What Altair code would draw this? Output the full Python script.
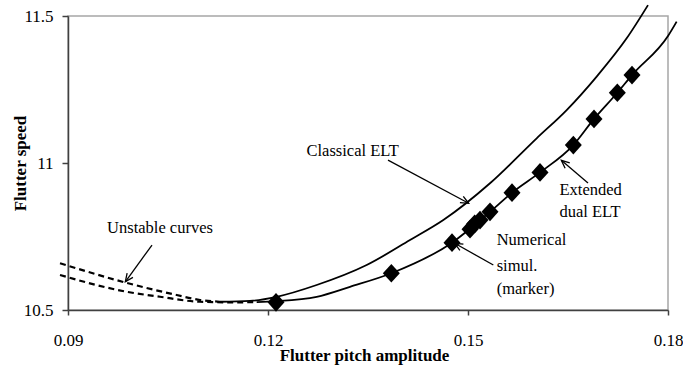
import math
import altair as alt
import pandas as pd

# ---------------- data ----------------
classical_x = [0.1128, 0.1173, 0.1213, 0.1273, 0.1348, 0.1413, 0.1463, 0.1533, 0.1603, 0.1648, 0.1693, 0.1738, 0.1770]
classical_y = [10.528, 10.531, 10.545, 10.585, 10.653, 10.738, 10.806, 10.931, 11.084, 11.180, 11.294, 11.424, 11.537]

extended_x = [0.1183, 0.1212, 0.1273, 0.1323, 0.1385, 0.1476, 0.1533, 0.1566, 0.1608, 0.1658, 0.1689, 0.1724, 0.1746, 0.1800, 0.1813]
extended_y = [10.527, 10.530, 10.545, 10.579, 10.625, 10.729, 10.834, 10.899, 10.968, 11.061, 11.150, 11.239, 11.299, 11.432, 11.481]

unstable_classical_x = [0.0888, 0.0985, 0.1063, 0.1098, 0.1128]
unstable_classical_y = [10.659, 10.594, 10.551, 10.534, 10.528]

unstable_extended_x = [0.0888, 0.0988, 0.1038, 0.1098, 0.1153, 0.1183]
unstable_extended_y = [10.619, 10.562, 10.545, 10.528, 10.526, 10.527]

simul_x = [0.1212, 0.1385, 0.1476, 0.1503, 0.1510, 0.1518, 0.1533, 0.1566, 0.1608, 0.1658, 0.1689, 0.1724, 0.1746]
simul_y = [10.526, 10.625, 10.729, 10.775, 10.793, 10.806, 10.834, 10.899, 10.968, 11.061, 11.150, 11.239, 11.299]

x_ticks = [0.09, 0.12, 0.15, 0.18]
y_ticks = [10.5, 11.0, 11.5]

# annotation texts (anchor in data units)
labels_text = ["Unstable curves", "Classical ELT", "Extended", "dual ELT", "Numerical", "simul.", "(marker)"]
labels_x = [0.1038, 0.1327, 0.1684, 0.1683, 0.1543, 0.1543, 0.1543]
labels_y = [10.779, 11.042, 10.908, 10.832, 10.738, 10.650, 10.573]
labels_align = ["center", "center", "center", "center", "left", "left", "left"]

# arrows: tail -> tip (data units)
arrow_x = [0.1026, 0.1380, 0.1680, 0.1538]
arrow_y = [10.721, 11.010, 10.932, 10.653]
arrow_x2 = [0.0986, 0.1501, 0.1640, 0.1480]
arrow_y2 = [10.596, 10.863, 11.009, 10.727]

# ---------------- layout ----------------
W, H = 600, 294
XD = [0.09, 0.18]
YD = [10.5, 11.5]
FONT = "Liberation Serif"

xs = alt.Scale(domain=XD, nice=False, zero=False)
ys = alt.Scale(domain=YD, nice=False, zero=False)

solid = pd.DataFrame(
    [{"curve": "classical", "o": i, "x": a, "y": b} for i, (a, b) in enumerate(zip(classical_x, classical_y))]
    + [{"curve": "extended", "o": i, "x": a, "y": b} for i, (a, b) in enumerate(zip(extended_x, extended_y))]
)
dashed = pd.DataFrame(
    [{"curve": "uc", "o": i, "x": a, "y": b} for i, (a, b) in enumerate(zip(unstable_classical_x, unstable_classical_y))]
    + [{"curve": "ue", "o": i, "x": a, "y": b} for i, (a, b) in enumerate(zip(unstable_extended_x, unstable_extended_y))]
)
sim = pd.DataFrame({"x": simul_x, "y": simul_y})

x_axis = alt.Axis(
    values=x_ticks, format=".2f", title="Flutter pitch amplitude",
    tickSize=5, labelPadding=25, labelBaseline="middle", labelFlush=False, labelOverlap=False,
    titleX=296, titleY=45, titleAlign="center", titleBaseline="middle", titleAngle=0,
)
y_axis = alt.Axis(
    values=y_ticks, format="~g", title="Flutter speed",
    tickSize=6, labelPadding=9, labelFlush=False, labelOverlap=False,
    titleX=-48, titleY=147, titleAlign="center", titleBaseline="middle", titleAngle=270,
)


def X(field):
    return alt.X(field, scale=xs, axis=x_axis)


def Y(field):
    return alt.Y(field, scale=ys, axis=y_axis)


solid_layer = alt.Chart(solid).mark_line(color="black", strokeWidth=1.8, interpolate="monotone").encode(
    x=X("x:Q"), y=Y("y:Q"), detail="curve:N", order="o:Q",
)

dashed_layer = alt.Chart(dashed).mark_line(color="black", strokeWidth=2.2, strokeDash=[6, 4], interpolate="monotone").encode(
    x=X("x:Q"), y=Y("y:Q"), detail="curve:N", order="o:Q",
)

marker_layer = alt.Chart(sim).mark_point(
    shape="M -1 0 L 0 -1.1 L 1 0 L 0 1.1 Z", filled=True, color="black", opacity=1, size=289
).encode(x=X("x:Q"), y=Y("y:Q"))

# arrows
rows = []
for a, b, c, d in zip(arrow_x, arrow_y, arrow_x2, arrow_y2):
    dxp = (c - a) / (XD[1] - XD[0]) * W
    dyp = -(d - b) / (YD[1] - YD[0]) * H
    ang = math.degrees(math.atan2(dxp, -dyp)) % 360
    rows.append({"x": a, "y": b, "x2": c, "y2": d, "angle": ang})
arrows = pd.DataFrame(rows)

arrow_lines = alt.Chart(arrows).mark_rule(color="black", strokeWidth=1.3).encode(
    x=X("x:Q"), y=Y("y:Q"), x2="x2:Q", y2="y2:Q",
)
arrow_heads = alt.Chart(arrows).mark_point(
    shape="M -0.45 1 L 0 0 L 0.45 1", filled=False, color="black", strokeWidth=1.3, opacity=1, size=256
).encode(
    x=X("x2:Q"), y=Y("y2:Q"), angle=alt.Angle("angle:Q", scale=None),
)

text_layers = []
for al in ["center", "left"]:
    df = pd.DataFrame({
        "t": [t for t, g in zip(labels_text, labels_align) if g == al],
        "x": [v for v, g in zip(labels_x, labels_align) if g == al],
        "y": [v for v, g in zip(labels_y, labels_align) if g == al],
    })
    text_layers.append(
        alt.Chart(df).mark_text(font=FONT, fontSize=16.5, color="black", align=al, baseline="middle").encode(
            x=X("x:Q"), y=Y("y:Q"), text="t:N",
        )
    )

chart = alt.layer(
    solid_layer, dashed_layer, marker_layer, arrow_lines, arrow_heads, *text_layers
).properties(
    width=W, height=H,
    autosize=alt.AutoSizeParams(type="none"),
    padding={"left": 68, "top": 16, "right": 15, "bottom": 63},
    background="white",
).configure_view(
    stroke="#a6a6a6", strokeWidth=1.5
).configure_axis(
    grid=False,
    domainColor="#404040", domainWidth=1.5,
    tickColor="#404040", tickWidth=1.5,
    labelFont=FONT, labelFontSize=17, labelColor="black",
    titleFont=FONT, titleFontSize=17, titleFontWeight="bold", titleColor="black",
)

chart.save("out.html", embed_options={"renderer": "svg", "actions": False})
